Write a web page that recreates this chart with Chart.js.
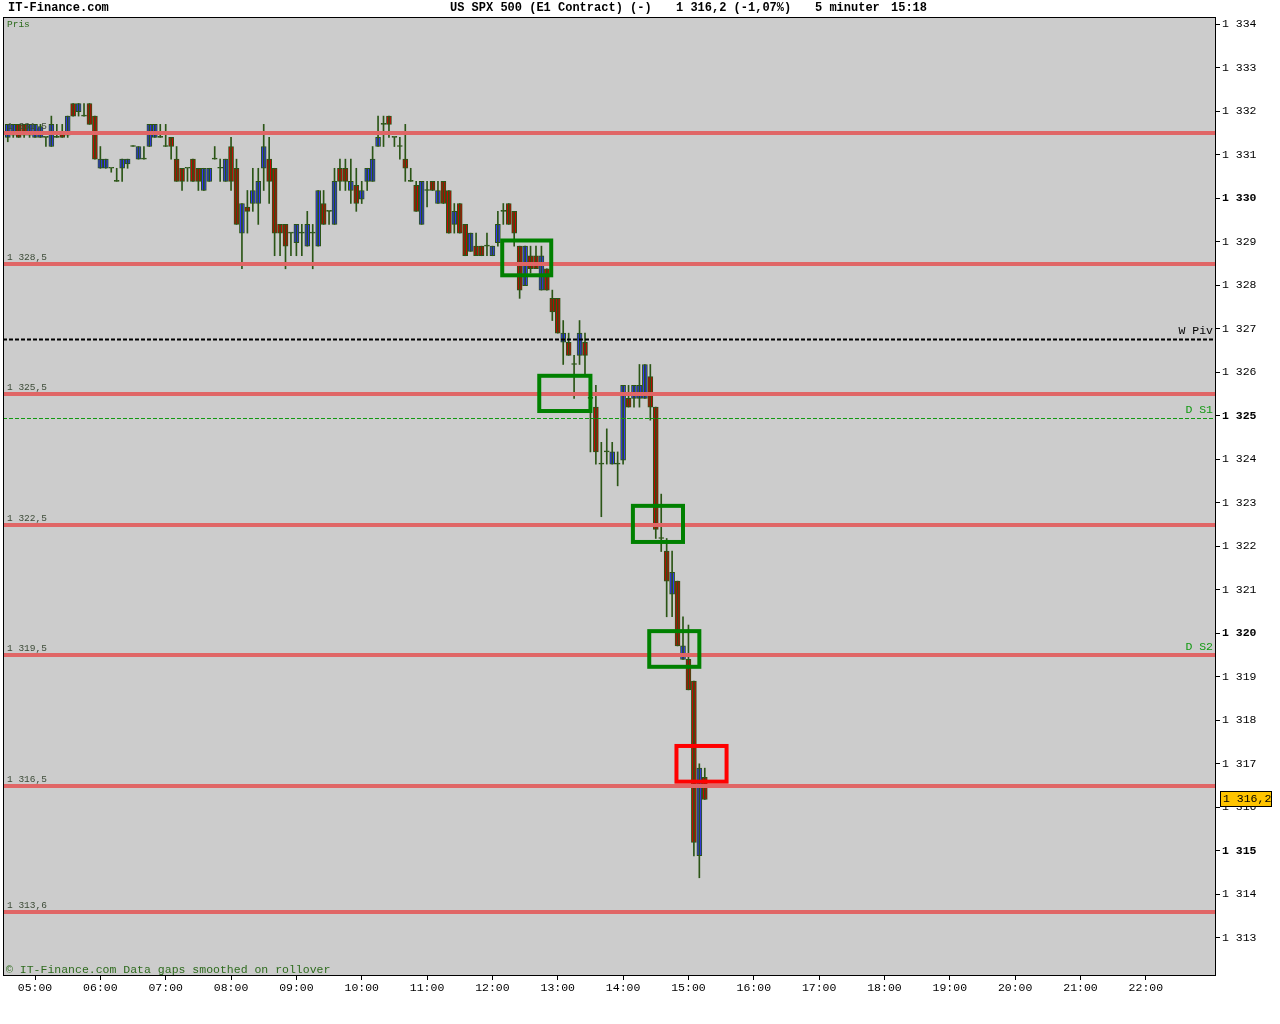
<!DOCTYPE html>
<html>
<head>
<meta charset="utf-8">
<title>US SPX 500 (E1 Contract) - 5 minuter</title>
<script src="https://cdn.jsdelivr.net/npm/chart.js@4.4.1/dist/chart.umd.min.js"></script>
<style>
    html, body { margin: 0; padding: 0; background: #ffffff; }
    #wrap { width: 1280px; height: 1024px; }
</style>
</head>
<body>
<div id="wrap"><canvas id="spx-chart" width="1280" height="1024"></canvas></div>
<script>
// 5 minute bars
const barTimes = [
    '04:35','04:40','04:45','04:50','04:55',
    '05:00','05:05','05:10','05:15','05:20','05:25','05:30','05:35','05:40','05:45','05:50','05:55',
    '06:00','06:05','06:10','06:15','06:20','06:25','06:30','06:35','06:40','06:45','06:50','06:55',
    '07:00','07:05','07:10','07:15','07:20','07:25','07:30','07:35','07:40','07:45','07:50','07:55',
    '08:00','08:05','08:10','08:15','08:20','08:25','08:30','08:35','08:40','08:45','08:50','08:55',
    '09:00','09:05','09:10','09:15','09:20','09:25','09:30','09:35','09:40','09:45','09:50','09:55',
    '10:00','10:05','10:10','10:15','10:20','10:25','10:30','10:35','10:40','10:45','10:50','10:55',
    '11:00','11:05','11:10','11:15','11:20','11:25','11:30','11:35','11:40','11:45','11:50','11:55',
    '12:00','12:05','12:10','12:15','12:20','12:25','12:30','12:35','12:40','12:45','12:50','12:55',
    '13:00','13:05','13:10','13:15','13:20','13:25','13:30','13:35','13:40','13:45','13:50','13:55',
    '14:00','14:05','14:10','14:15','14:20','14:25','14:30','14:35','14:40','14:45','14:50','14:55',
    '15:00','15:05','15:10','15:15'
];

const opens = [
    1331.40,1331.45,1331.70,1331.70,1331.45,1331.40,1331.40,1331.40,1331.19,1331.40,1331.51,1331.45,1332.18,1331.99,1331.89,1332.18,1331.89,
    1330.69,1330.69,1330.69,1330.39,1330.69,1330.79,1331.19,1330.90,1330.90,1331.19,1331.40,1331.40,1331.19,1331.40,1330.90,1330.69,1330.69,
    1330.90,1330.69,1330.18,1330.39,1330.90,1330.69,1330.39,1331.19,1330.69,1329.20,1329.80,1329.88,1329.88,1330.69,1330.90,1330.69,
    1329.40,1329.40,1329.20,1328.98,1329.20,1328.90,1329.20,1328.90,1329.88,1329.70,1329.40,1330.69,1330.69,1330.18,1330.30,1329.98,
    1330.39,1330.39,1331.19,1331.70,1331.89,1331.40,1331.19,1330.90,
    1330.39,1330.30,1329.40,1330.18,1330.39,1329.88,1330.39,1330.18,1329.40,1329.88,1329.40,1328.78,1328.90,1328.90,1328.90,1328.68,
    1328.98,1329.70,1329.88,1329.70,1328.90,1327.99,1328.68,1328.68,1327.89,1328.38,
    1327.70,1327.70,1326.69,1326.69,1326.18,1326.39,1326.69,1325.40,1325.20,1323.89,1324.17,1323.89,1323.89,1323.98,1325.40,1325.40,
    1325.40,1325.40,1325.90,1325.20,
    1322.18,1321.89,1320.90,1321.20,1319.40,1319.40,1318.90,1314.89,1316.69
];
const highs = [
    1331.70,1331.70,1331.70,1331.70,1331.70,1331.70,1331.70,1331.40,1331.89,1331.70,1331.70,1331.89,1332.18,1332.18,1332.18,1332.18,1331.89,
    1331.19,1330.90,1330.69,1330.69,1330.90,1330.90,1331.19,1331.19,1331.19,1331.70,1331.70,1331.70,1331.70,1331.40,1331.19,1330.69,1330.69,
    1330.90,1330.69,1330.69,1330.69,1331.19,1330.90,1330.90,1331.40,1330.90,1329.88,1330.18,1330.69,1330.69,1331.70,1331.40,1330.69,
    1329.40,1329.40,1329.20,1329.40,1329.40,1329.70,1329.40,1330.18,1330.18,1329.70,1330.69,1330.90,1330.90,1330.90,1330.69,1330.39,
    1330.69,1331.19,1331.89,1331.89,1331.89,1331.40,1331.40,1331.70,
    1330.69,1330.39,1330.39,1330.39,1330.39,1330.39,1330.39,1330.18,1329.88,1329.88,1329.40,1329.20,1329.20,1328.90,1329.20,1328.90,
    1329.70,1329.88,1329.88,1329.70,1328.90,1328.90,1328.90,1328.90,1328.90,1328.38,
    1327.89,1327.70,1327.19,1326.90,1326.39,1327.19,1326.90,1325.90,1325.70,1324.39,1324.70,1324.39,1324.17,1325.70,1325.70,1325.70,
    1326.18,1326.18,1326.18,1325.20,
    1323.20,1322.18,1321.89,1321.20,1320.38,1320.19,1318.90,1317.00,1316.90
];
const lows = [
    1331.30,1331.40,1331.40,1331.40,1331.40,1331.40,1331.40,1331.19,1331.19,1331.40,1331.40,1331.40,1331.89,1331.89,1331.89,1331.70,1330.90,
    1330.69,1330.69,1330.60,1330.39,1330.39,1330.69,1331.19,1330.90,1330.90,1331.19,1331.40,1331.40,1331.19,1330.90,1330.39,1330.18,1330.39,
    1330.39,1330.18,1330.18,1330.39,1330.90,1330.39,1330.39,1330.18,1329.40,1328.38,1329.20,1329.70,1329.40,1330.18,1329.88,1328.68,
    1328.68,1328.38,1328.68,1328.68,1328.68,1328.90,1328.38,1328.90,1329.40,1329.40,1329.40,1330.18,1330.18,1329.88,1329.70,1329.88,
    1330.18,1330.39,1331.19,1331.19,1331.40,1331.19,1330.90,1330.39,
    1330.39,1329.70,1329.40,1329.80,1330.18,1329.88,1329.88,1329.20,1329.20,1329.20,1328.68,1328.78,1328.68,1328.68,1328.68,1328.68,
    1328.90,1329.40,1329.40,1328.90,1327.70,1327.99,1328.28,1328.38,1327.89,1327.89,
    1327.19,1326.90,1326.18,1326.39,1325.40,1326.18,1325.90,1324.17,1323.89,1322.68,1323.89,1323.89,1323.39,1323.89,1325.20,1325.20,
    1325.20,1325.40,1324.90,1322.18,
    1321.88,1320.38,1320.38,1319.71,1319.40,1318.70,1314.88,1314.38,1316.18
];
const closes = [
    1331.70,1331.70,1331.40,1331.45,1331.70,1331.70,1331.65,1331.40,1331.70,1331.40,1331.40,1331.89,1331.89,1332.18,1331.89,1331.70,1330.90,
    1330.90,1330.90,1330.69,1330.39,1330.90,1330.90,1331.19,1331.19,1330.90,1331.70,1331.70,1331.40,1331.19,1331.19,1330.39,1330.39,1330.69,
    1330.39,1330.39,1330.69,1330.69,1330.90,1330.69,1330.90,1330.39,1329.40,1329.88,1329.70,1330.18,1330.39,1331.19,1330.39,1329.20,
    1329.20,1328.90,1329.20,1329.40,1329.20,1329.40,1329.20,1330.18,1329.40,1329.70,1330.39,1330.39,1330.39,1330.39,1329.88,1330.18,
    1330.69,1330.90,1331.40,1331.70,1331.70,1331.40,1331.19,1330.69,
    1330.39,1329.70,1330.39,1330.18,1330.18,1330.18,1329.88,1329.20,1329.70,1329.20,1328.68,1329.20,1328.68,1328.68,1328.90,1328.90,
    1329.40,1329.70,1329.40,1329.20,1327.89,1328.90,1328.38,1328.38,1328.68,1327.89,
    1327.39,1326.90,1326.90,1326.39,1326.18,1326.90,1326.39,1325.40,1324.17,1323.89,1324.17,1324.17,1323.89,1325.70,1325.20,1325.70,
    1325.70,1326.18,1325.20,1322.39,
    1322.18,1321.20,1321.40,1319.71,1319.71,1318.70,1315.19,1316.90,1316.18
];

// Axis ticks
const hourTicks = ['05:00','06:00','07:00','08:00','09:00','10:00','11:00','12:00','13:00','14:00',
    '15:00','16:00','17:00','18:00','19:00','20:00','21:00','22:00'];
const priceTicks = [1313,1314,1315,1316,1317,1318,1319,1320,1321,1322,1323,1324,1325,1326,1327,1328,
    1329,1330,1331,1332,1333,1334];

// Support / resistance levels
const levelPrices = [1331.5, 1328.5, 1325.5, 1322.5, 1319.5, 1316.5, 1313.6];
const levelLabels = ['1 331,5','1 328,5','1 325,5','1 322,5','1 319,5','1 316,5','1 313,6'];

// Pivot lines
const pivotNames = ['W Piv', 'D S1', 'D S2'];
const pivotPrices = [1326.77, 1324.95, 1319.5];

// Marked zones (time from/to, price top/bottom)
const boxFrom = ['12:09','12:43','14:09','14:24','14:49'];
const boxTo = ['12:54','13:30','14:55','15:10','15:35'];
const boxTop = [1329.03, 1325.92, 1322.93, 1320.05, 1317.41];
const boxBottom = [1328.23, 1325.11, 1322.10, 1319.23, 1316.59];
const boxIsAlert = [false, false, false, false, true];

const lastPrice = 1316.2;

const MONO = '"Liberation Mono", "DejaVu Sans Mono", monospace';
const WICK = '#2b5516';
const UP = '#3333ff';
const DOWN = '#cc0000';

function toMin(s) {
    return parseInt(s.slice(0, 2), 10) * 60 + parseInt(s.slice(3), 10);
}

function fmtPrice(v, dec) {
    const s = dec ? v.toFixed(dec).replace('.', ',') : String(v);
    const intPart = dec ? s.split(',')[0] : s;
    const rest = dec ? ',' + s.split(',')[1] : '';
    return intPart.slice(0, intPart.length - 3) + ' ' + intPart.slice(-3) + rest;
}

function fmtTime(m) {
    const h = Math.floor(m / 60), mm = m % 60;
    return String(h).padStart(2, '0') + ':' + String(mm).padStart(2, '0');
}

// Chart decorations
const decorPlugin = {
    id: 'decor',
    beforeDraw(chart) {
        const { ctx, chartArea: a } = chart;
        ctx.save();
        ctx.fillStyle = '#ffffff';
        ctx.fillRect(0, 0, chart.width, chart.height);
        ctx.fillStyle = '#cccccc';
        ctx.fillRect(a.left, a.top, a.right - a.left, a.bottom - a.top);
        ctx.restore();
    },
    afterDatasetsDraw(chart) {
        const { ctx, chartArea: a, scales } = chart;
        const xs = scales.x, ys = scales.y;
        ctx.save();
        ctx.beginPath();
        ctx.rect(a.left, a.top, a.right - a.left, a.bottom - a.top);
        ctx.clip();

        // D S2 sits under the 1319,5 level
        pivotPrices.forEach(function(p, i) {
            const y = Math.round(ys.getPixelForValue(p)) + 0.5;
            ctx.beginPath();
            if (i === 0) {
                ctx.strokeStyle = '#000000';
                ctx.lineWidth = 2;
            } else {
                ctx.strokeStyle = '#119911';
                ctx.lineWidth = 1;
            }
            ctx.setLineDash([4, 2]);
            ctx.moveTo(a.left, y);
            ctx.lineTo(a.right, y);
            ctx.stroke();
        });
        ctx.setLineDash([]);

        levelPrices.forEach(function(p) {
            const y = Math.round(ys.getPixelForValue(p));
            ctx.strokeStyle = '#e06666';
            ctx.lineWidth = 4;
            ctx.beginPath();
            ctx.moveTo(a.left, y);
            ctx.lineTo(a.right, y);
            ctx.stroke();
        });

        // level captions
        ctx.font = '9.5px ' + MONO;
        ctx.fillStyle = '#3b4a36';
        ctx.textBaseline = 'bottom';
        ctx.textAlign = 'left';
        levelPrices.forEach(function(p, i) {
            const y = Math.round(ys.getPixelForValue(p));
            ctx.fillText(levelLabels[i], a.left + 4, y - 2);
        });

        // pivot captions
        ctx.textAlign = 'right';
        ctx.font = '11.5px ' + MONO;
        pivotPrices.forEach(function(p, i) {
            const y = Math.round(ys.getPixelForValue(p));
            ctx.fillStyle = i === 0 ? '#000000' : '#119911';
            ctx.fillText(pivotNames[i], a.right - 2, y - 2);
        });

        // zone boxes
        ctx.lineWidth = 4;
        boxFrom.forEach(function(t, i) {
            const x1 = xs.getPixelForValue(toMin(t));
            const x2 = xs.getPixelForValue(toMin(boxTo[i]));
            const y1 = ys.getPixelForValue(boxTop[i]);
            const y2 = ys.getPixelForValue(boxBottom[i]);
            ctx.strokeStyle = boxIsAlert[i] ? '#ff0000' : '#008000';
            ctx.strokeRect(x1, y1, x2 - x1, y2 - y1);
        });
        ctx.restore();
    },
    afterDraw(chart) {
        const { ctx, chartArea: a, scales } = chart;
        ctx.save();

        // frame
        ctx.strokeStyle = '#000000';
        ctx.lineWidth = 1;
        ctx.strokeRect(a.left + 0.5, a.top - 0.5, a.right - a.left, a.bottom - a.top + 1);

        // header
        ctx.fillStyle = '#000000';
        ctx.textBaseline = 'middle';
        ctx.textAlign = 'left';
        ctx.font = 'bold 12px ' + MONO;
        ctx.fillText('IT-Finance.com', 8, 8);
        ctx.fillText('US SPX 500 (E1 Contract) (-)', 450, 8);
        ctx.fillText('1 316,2 (-1,07%)', 676, 8);
        ctx.fillText('5 minuter', 815, 8);
        ctx.fillText('15:18', 891, 8);

        ctx.font = '9.5px ' + MONO;
        ctx.fillStyle = '#2e6b1e';
        ctx.fillText('Pris', a.left + 4, a.top + 6);

        ctx.font = '11.5px ' + MONO;
        ctx.fillText('\u00a9 IT-Finance.com Data gaps smoothed on rollover', a.left + 3, a.bottom - 5);

        // last price tag
        const yl = Math.round(scales.y.getPixelForValue(lastPrice));
        ctx.fillStyle = '#ffc400';
        ctx.fillRect(1220, yl - 8, 52, 16);
        ctx.strokeStyle = '#000000';
        ctx.strokeRect(1220.5, yl - 7.5, 51, 15);
        ctx.fillStyle = '#000000';
        ctx.font = '11.5px ' + MONO;
        ctx.fillText(fmtPrice(lastPrice, 1), 1223, yl);
        ctx.restore();
    }
};

const wickData = barTimes.map(function(t, i) {
    return { x: toMin(t), y: [lows[i], highs[i]] };
});
const bodyData = barTimes.map(function(t, i) {
    return { x: toMin(t), y: [opens[i], closes[i]] };
});

function bodyColor(context) {
    const i = context.dataIndex;
    if (closes[i] > opens[i]) return UP;
    if (closes[i] < opens[i]) return DOWN;
    return WICK;
}

Chart.defaults.font.family = MONO;

const chart = new Chart(document.getElementById('spx-chart'), {
    type: 'bar',
    data: {
        datasets: [
            {
                label: 'Range',
                data: wickData,
                backgroundColor: WICK,
                borderWidth: 0,
                barThickness: 1,
                grouped: false,
                minBarLength: 1
            },
            {
                label: 'Pris',
                data: bodyData,
                backgroundColor: bodyColor,
                borderColor: WICK,
                borderWidth: 1,
                borderSkipped: false,
                barThickness: 5,
                grouped: false,
                minBarLength: 1
            }
        ]
    },
    plugins: [decorPlugin],
    options: {
        responsive: false,
        animation: false,
        layout: { padding: { left: 3, top: 18, right: 0, bottom: 0 } },
        plugins: {
            legend: { display: false },
            tooltip: { enabled: false }
        },
        scales: {
            x: {
                type: 'linear',
                offset: false,
                min: 270.6,
                max: 1383.5,
                afterFit: function(scale) { scale.height = 49; },
                afterBuildTicks: function(scale) {
                    scale.ticks = hourTicks.map(function(h) { return { value: toMin(h) }; });
                },
                grid: { offset: false, drawOnChartArea: false, drawTicks: true, tickLength: 5, color: '#000000' },
                border: { display: false },
                ticks: {
                    padding: 1,
                    color: '#000000',
                    maxRotation: 0,
                    autoSkip: false,
                    font: { family: MONO, size: 11.5 },
                    callback: function(v) { return fmtTime(v); }
                }
            },
            y: {
                position: 'right',
                min: 1312.145,
                max: 1334.145,
                afterFit: function(scale) { scale.width = 65; },
                afterBuildTicks: function(scale) {
                    scale.ticks = priceTicks.map(function(p) { return { value: p }; });
                },
                grid: { drawOnChartArea: false, drawTicks: true, tickLength: 5, color: '#000000' },
                border: { display: false },
                ticks: {
                    padding: 2,
                    color: '#000000',
                    autoSkip: false,
                    font: function(ctx) {
                        const bold = ctx.tick && ctx.tick.value % 5 === 0;
                        return { family: MONO, size: 11.5, weight: bold ? 'bold' : 'normal' };
                    },
                    callback: function(v) { return fmtPrice(v); }
                }
            }
        }
    }
});
</script>
</body>
</html>
